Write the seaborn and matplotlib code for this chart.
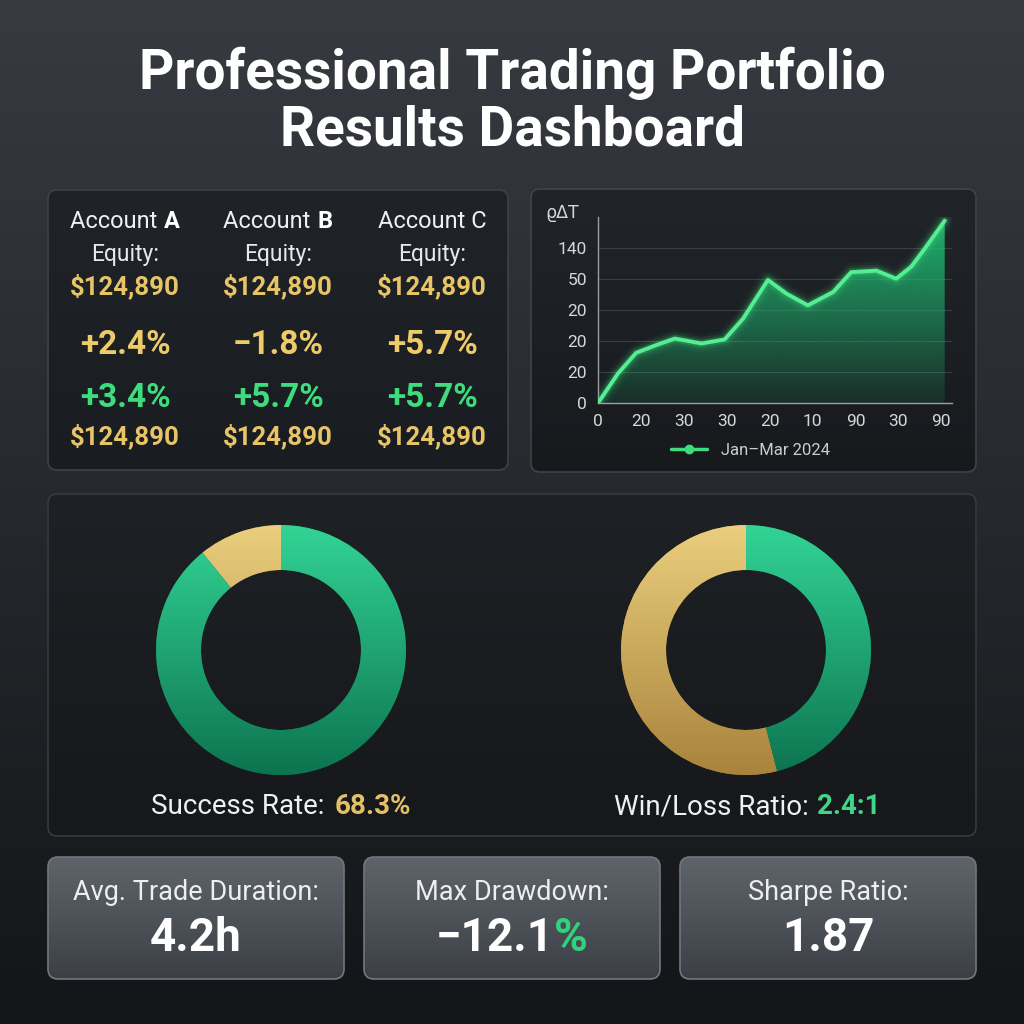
import numpy as np
import matplotlib
matplotlib.use('Agg')
import matplotlib.pyplot as plt
import seaborn as sns
from matplotlib.patches import FancyBboxPatch
from matplotlib.lines import Line2D
from matplotlib.colors import to_rgb

# ---- data ----
title_lines = ['Professional Trading Portfolio', 'Results Dashboard']

accounts = ['A', 'B', 'C']
equity_top = ['$124,890', '$124,890', '$124,890']
change_gold = ['+2.4%', '\u22121.8%', '+5.7%']
change_green = ['+3.4%', '+5.7%', '+5.7%']
equity_bottom = ['$124,890', '$124,890', '$124,890']

curve_x = [0, 0.47, 0.89, 1.36, 1.79, 2.41, 2.95, 3.38, 3.96, 4.39, 4.89,
           5.48, 5.90, 6.49, 6.95, 7.30, 7.61, 8.08]
curve_y = [0, 0.96, 1.62, 1.87, 2.08, 1.92, 2.05, 2.72, 3.97, 3.53, 3.15,
           3.58, 4.22, 4.27, 4.01, 4.40, 4.97, 5.88]
x_tick_labels = ['0', '20', '30', '30', '20', '10', '90', '30', '90']
y_tick_labels = ['0', '20', '20', '20', '50', '140']
curve_label = 'Jan\u2013Mar 2024'

success_split = [10.8, 89.2]   # gold, green
winloss_split = [54.0, 46.0]   # gold, green

kpi_labels = ['Avg. Trade Duration:', 'Max Drawdown:', 'Sharpe Ratio:']
kpi_values = ['4.2h', '\u221212.1', '1.87']

# ---- style ----
sns.set_theme(style='dark')
plt.rcParams['font.family'] = ['Roboto', 'DejaVu Sans']

GREEN = '#3fdc7e'
GOLD = '#e6c467'
GOLD_DONUT = ('#eacf7e', '#a9833b')
GREEN_DONUT = ('#33d495', '#0c7450')


def vgrad(c1, c2, n=256):
    a, b = np.array(to_rgb(c1)), np.array(to_rgb(c2))
    t = np.linspace(0, 1, n)[:, None]
    return (a * (1 - t) + b * t)[:, None, :]


fig = plt.figure(figsize=(10.24, 10.24), dpi=100)
bg = fig.add_axes([0, 0, 1, 1])
bg.imshow(vgrad('#373b41', '#131518'), extent=[0, 1024, 1024, 0], aspect='auto', zorder=0)
bg.set_xlim(0, 1024)
bg.set_ylim(1024, 0)
bg.axis('off')
renderer = fig.canvas.get_renderer()


def panel(x, y, w, h, c_top, c_bot, edge, r=9):
    box = FancyBboxPatch((x, y), w, h, boxstyle=f'round,pad=0,rounding_size={r}',
                         fc=c_top, ec='none', zorder=2)
    bg.add_patch(box)
    im = bg.imshow(vgrad(c_top, c_bot), extent=[x, x + w, y + h, y], aspect='auto', zorder=2.1)
    im.set_clip_path(box)
    bg.add_patch(FancyBboxPatch((x, y), w, h, boxstyle=f'round,pad=0,rounding_size={r}',
                                fc='none', ec=edge, lw=1.2, zorder=2.2))


def two_tone(cx, cy, first, second, c1, c2, size, w1='normal', w2='normal'):
    # centre the joined string, then draw both parts in their own colours
    probe = bg.text(cx, cy, first + second, fontsize=size, fontweight=w2, ha='center', va='center')
    ext = probe.get_window_extent(renderer)
    probe.remove()
    x0, x1 = ext.x0, ext.x1
    bg.text(x0, cy, first, ha='left', va='center', color=c1, fontsize=size, fontweight=w1, zorder=5)
    bg.text(x1, cy, second, ha='right', va='center', color=c2, fontsize=size, fontweight=w2, zorder=5)


panel(48, 190, 460, 280, '#202429', '#191c20', '#3d4248')
panel(531, 189, 445, 283, '#212529', '#17191d', '#3f444a')
panel(48, 494, 928, 342, '#1e2125', '#16181b', '#363a3f')
for x0 in [48, 364, 680]:
    panel(x0, 857, 296, 122, '#5f646b', '#3c4046', '#72777d', r=10)
bg.set_xlim(0, 1024)
bg.set_ylim(1024, 0)

# title
bg.text(512, 89, title_lines[0], ha='center', va='baseline', color='white',
        fontsize=39.5, fontweight='bold', zorder=5)
bg.text(512, 146, title_lines[1], ha='center', va='baseline', color='white',
        fontsize=39.5, fontweight='bold', zorder=5)

# account panel
col_x = [125, 278, 432]
for i, acc in enumerate(accounts):
    cx = col_x[i]
    if acc == 'C':
        bg.text(cx, 221, 'Account C', ha='center', va='center', color='#eef0f2', fontsize=17, zorder=5)
    else:
        two_tone(cx, 221, 'Account ', acc, '#eef0f2', 'white', 17, w2='bold')
    bg.text(cx, 255, 'Equity:', ha='center', va='center', color='#e6e8ea', fontsize=16.5, zorder=5)
    bg.text(cx, 286, equity_top[i], ha='center', va='center', color=GOLD, fontsize=18.5,
            fontweight='bold', zorder=5)
    bg.text(cx, 345, change_gold[i], ha='center', va='center', color='#edcb68', fontsize=24,
            fontweight='bold', zorder=5)
    bg.text(cx, 398, change_green[i], ha='center', va='center', color=GREEN, fontsize=24,
            fontweight='bold', zorder=5)
    bg.text(cx, 436, equity_bottom[i], ha='center', va='center', color=GOLD, fontsize=18.5,
            fontweight='bold', zorder=5)

# line chart
ax = fig.add_axes([598 / 1024, 1 - 403 / 1024, 354 / 1024, 186 / 1024])
ax.set_facecolor('none')
poly = ax.fill_between(curve_x, curve_y, 0, color='none', lw=0)
fill = np.zeros((256, 1, 4))
fill[:, 0, :3] = to_rgb('#1fb870')
fill[:, 0, 3] = np.linspace(0.95, 0.12, 256)
im = ax.imshow(fill, extent=[0, 8.25, 0, 6.0], aspect='auto', zorder=1)
im.set_clip_path(poly.get_paths()[0], ax.transData)
for lw, a in [(13, 0.05), (9, 0.1), (5.5, 0.22)]:
    sns.lineplot(x=curve_x, y=curve_y, ax=ax, color=GREEN, lw=lw, alpha=a, legend=False, zorder=3)
sns.lineplot(x=curve_x, y=curve_y, ax=ax, color='#55ee92', lw=2.8, legend=False, zorder=4)
ax.set_xlim(0, 8.25)
ax.set_ylim(0, 6.0)
ax.set_xticks(range(len(x_tick_labels)))
ax.set_xticklabels(x_tick_labels)
ax.set_yticks(range(len(y_tick_labels)))
ax.set_yticklabels(y_tick_labels)
ax.tick_params(colors='#d5d8db', labelsize=12.5, length=0, pad=8)
for s in ['top', 'right']:
    ax.spines[s].set_visible(False)
for s in ['left', 'bottom']:
    ax.spines[s].set_visible(True)
    ax.spines[s].set_color('#9a9fa5')
    ax.spines[s].set_linewidth(1.0)
ax.grid(axis='y', color='#3a3f45', lw=0.8)
ax.grid(axis='x', visible=False)
ax.set_xlabel('')
ax.set_ylabel('')
ax.text(-0.1, 1.02, '\u03f1\u0394T', transform=ax.transAxes, ha='center', va='center',
        color='#d5d8db', fontsize=12.5, family=['DejaVu Sans'])
handle = Line2D([], [], color=GREEN, lw=2.5, marker='o', markersize=6)
leg = ax.legend([handle], [curve_label], loc='center', bbox_to_anchor=(0.43, -0.255),
                frameon=False, fontsize=12, handlelength=2.2)
for t in leg.get_texts():
    t.set_color('#c9ccd0')


# donuts
def donut(cx, cy, vals):
    r = 125
    dax = fig.add_axes([(cx - r) / 1024, 1 - (cy + r) / 1024, 2 * r / 1024, 2 * r / 1024])
    dax.set_facecolor('none')
    wedges, _ = dax.pie(vals, colors=[GOLD_DONUT[1], GREEN_DONUT[1]], startangle=90,
                        counterclock=True, wedgeprops=dict(width=0.36, edgecolor='none'))
    for w, cols in zip(wedges, [GOLD_DONUT, GREEN_DONUT]):
        g = dax.imshow(vgrad(*cols), extent=[-1, 1, -1, 1], aspect='auto', zorder=3)
        g.set_clip_path(w)
    dax.set_xlim(-1.0, 1.0)
    dax.set_ylim(-1.0, 1.0)
    dax.axis('off')


donut(281, 650, success_split)
donut(746, 650, winloss_split)

two_tone(281, 807, 'Success Rate: ', '68.3%', '#eef0f2', '#e3bf68', 20, w2='bold')
two_tone(747, 807, 'Win/Loss Ratio: ', '2.4:1', '#eef0f2', '#3fd68a', 20, w2='bold')

# KPI cards
card_cx = [196, 512, 828]
for i in range(3):
    bg.text(card_cx[i], 892, kpi_labels[i], ha='center', va='center', color='#eceef0',
            fontsize=19.5, zorder=5)
    if i == 1:
        two_tone(card_cx[i], 938, kpi_values[i], '%', 'white', '#2fd37c', 33, w1='bold', w2='bold')
    else:
        bg.text(card_cx[i], 938, kpi_values[i], ha='center', va='center', color='white',
                fontsize=33, fontweight='bold', zorder=5)

fig.savefig('out.png', dpi=100)
